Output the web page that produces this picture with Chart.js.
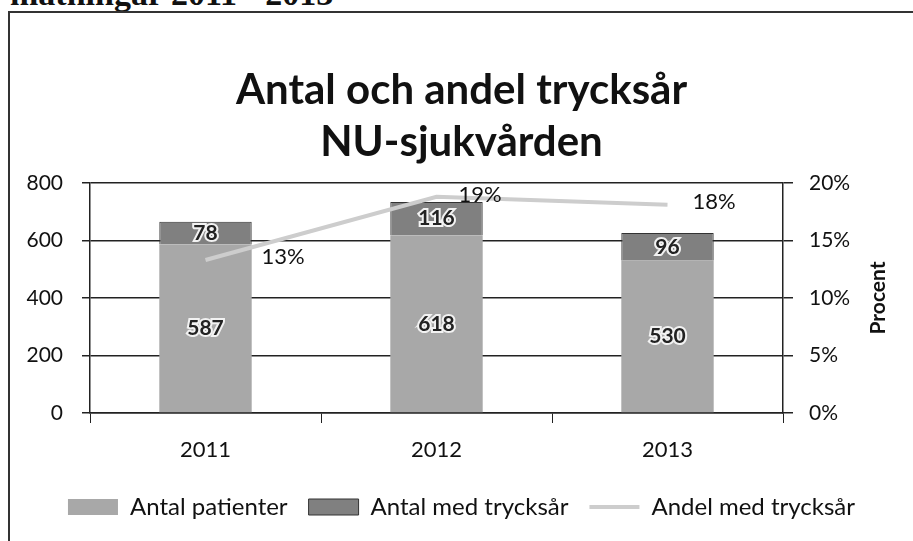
<!DOCTYPE html>
<html>
<head>
<meta charset="utf-8">
<script src="https://cdn.jsdelivr.net/npm/chart.js@4.4.1/dist/chart.umd.min.js"></script>
<style>
    body { margin: 0; background: #fff; width: 913px; height: 541px; overflow: hidden; position: relative; }
    #pageText { position: absolute; left: 10px; top: -23px; font: bold 34px "Liberation Serif", serif; line-height: 34px; color: #111; white-space: nowrap; }
    #frame { position: absolute; left: 8px; top: 11px; width: 960px; height: 600px; border-left: 2px solid #333; border-top: 2px solid #333; }
    #wrap { position: absolute; left: 0; top: 0; width: 913px; height: 541px; }
</style>
</head>
<body>
<div id="pageText">mätningar 2011 - 2013</div>
<div id="frame"></div>
<div id="wrap"><canvas id="trycksarChart" width="913" height="541"></canvas></div>
<script>
const years = ["2011", "2012", "2013"];
const antalPatienter = [587, 618, 530];
const antalTrycksar = [78, 116, 96];
const andelTrycksar = [0.133, 0.188, 0.181];
const countTicks = [0, 200, 400, 600, 800];
const percentTicks = [0, 0.05, 0.10, 0.15, 0.20];

const FONT = "Lato, 'Open Sans', sans-serif";
const pctLabelOffsets = [[56, -3], [22, -2], [25, -3]];

const valueLabels = {
    id: "valueLabels",
    afterDatasetsDraw(chart) {
        const ctx = chart.ctx;
        ctx.save();
        chart.data.datasets.forEach((ds, i) => {
            const meta = chart.getDatasetMeta(i);
            meta.data.forEach((el, j) => {
                const v = ds.data[j];
                if (ds.type === "line") {
                    ctx.font = "22px " + FONT;
                    ctx.textAlign = "left";
                    ctx.textBaseline = "middle";
                    ctx.fillStyle = "#111";
                    const off = pctLabelOffsets[j];
                    ctx.fillText(Math.round(v * 100) + "%", el.x + off[0], el.y + off[1]);
                } else {
                    const y = (el.y + el.base) / 2;
                    ctx.font = "bold 21px " + FONT;
                    ctx.textAlign = "center";
                    ctx.textBaseline = "middle";
                    ctx.lineWidth = 4;
                    ctx.strokeStyle = "#f2f2f2";
                    ctx.strokeText(String(v), el.x, y);
                    ctx.fillStyle = "#222";
                    ctx.fillText(String(v), el.x, y);
                }
            });
        });
        ctx.restore();
    },
    afterDraw(chart) {
        const ctx = chart.ctx;
        const area = chart.chartArea;
        ctx.save();
        ctx.translate(area.right + 95, (area.top + area.bottom) / 2);
        ctx.rotate(-Math.PI / 2);
        ctx.font = "bold 21px " + FONT;
        ctx.fillStyle = "#111";
        ctx.textAlign = "center";
        ctx.textBaseline = "middle";
        ctx.fillText("Procent", 0, 0);
        ctx.restore();
    }
};

document.addEventListener("DOMContentLoaded", () => {
    renderChart();
});

function renderChart() {
    const ctx = document.getElementById("trycksarChart").getContext("2d");

    new Chart(ctx, {
        type: "bar",
        data: {
            labels: years,
            datasets: [{
                label: "Antal patienter",
                data: antalPatienter,
                backgroundColor: "#a8a8a8",
                borderWidth: 0,
                pointStyle: "rect",
                stack: "s",
                yAxisID: "y",
                order: 1
            }, {
                label: "Antal med trycksår",
                data: antalTrycksar,
                backgroundColor: "#808080",
                borderColor: "#333",
                borderWidth: 1,
                pointStyle: "rect",
                stack: "s",
                yAxisID: "y",
                order: 1
            }, {
                type: "line",
                label: "Andel med trycksår",
                data: andelTrycksar,
                borderColor: "#cdcdcd",
                backgroundColor: "#cdcdcd",
                borderWidth: 4,
                pointRadius: 0,
                pointStyle: "line",
                tension: 0,
                yAxisID: "y1",
                order: 0
            }]
        },
        options: {
            responsive: false,
            animation: false,
            layout: { padding: { left: 10, right: 0, top: 0, bottom: 12 } },
            categoryPercentage: 1,
            barPercentage: 0.4,
            plugins: {
                tooltip: { enabled: false },
                title: {
                    display: true,
                    text: ["Antal och andel trycksår", "NU-sjukvården"],
                    color: "#111",
                    font: { family: FONT, size: 42, weight: "bold", lineHeight: 1.25 },
                    padding: { top: 64, bottom: 14 }
                },
                legend: {
                    position: "bottom",
                    labels: {
                        usePointStyle: true,
                        pointStyleWidth: 50,
                        boxHeight: 16,
                        padding: 21,
                        color: "#111",
                        font: { family: FONT, size: 24 },
                        sort: (a, b) => a.datasetIndex - b.datasetIndex
                    }
                }
            },
            scales: {
                x: {
                    stacked: true,
                    afterFit: (s) => { s.height = 61; },
                    grid: { offset: true, drawOnChartArea: false, drawTicks: true, tickLength: 10, color: "#222" },
                    border: { color: "#222", width: 1.5 },
                    ticks: { color: "#111", padding: 14, font: { family: FONT, size: 22 } }
                },
                y: {
                    stacked: true,
                    min: 0,
                    max: 800,
                    afterFit: (s) => { s.width = 80; },
                    afterBuildTicks: (s) => { s.ticks = countTicks.map((v) => ({ value: v })); },
                    grid: { color: "#222", lineWidth: 1.5, tickLength: 8 },
                    border: { color: "#222", width: 1.5 },
                    ticks: { color: "#111", padding: 19, font: { family: FONT, size: 21 } }
                },
                y1: {
                    position: "right",
                    min: 0,
                    max: 0.2,
                    afterFit: (s) => { s.width = 130; },
                    afterBuildTicks: (s) => { s.ticks = percentTicks.map((v) => ({ value: v })); },
                    grid: { drawOnChartArea: false, color: "#222", lineWidth: 1.5, tickLength: 10 },
                    border: { color: "#222", width: 1.5 },
                    ticks: {
                        color: "#111",
                        padding: 16,
                        font: { family: FONT, size: 21 },
                        callback: (v) => Math.round(v * 100) + "%"
                    }
                }
            }
        },
        plugins: [valueLabels]
    });
}
</script>
</body>
</html>
